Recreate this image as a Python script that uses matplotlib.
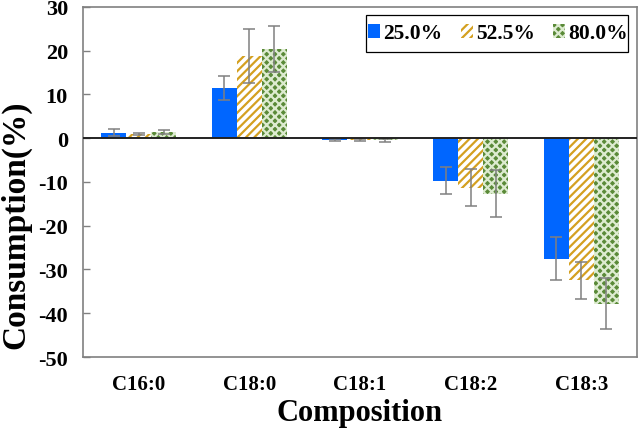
import numpy as np
import matplotlib
matplotlib.use("Agg")
import matplotlib.pyplot as plt
from matplotlib.patches import Rectangle

plt.rcParams['font.family'] = ['Liberation Serif', 'DejaVu Serif']
plt.rcParams['font.weight'] = 'bold'
plt.rcParams['axes.unicode_minus'] = False
plt.rcParams['hatch.linewidth'] = 1.6

# data
categories = ["C16:0", "C18:0", "C18:1", "C18:2", "C18:3"]
series_labels = ["25.0%", "52.5%", "80.0%"]
values_25 = [1.2, 11.4, -0.4, -9.7, -27.5]
values_52 = [0.9, 18.8, -0.4, -11.3, -32.5]
values_80 = [1.35, 20.35, -0.5, -12.7, -37.8]
err_25 = [0.8, 2.75, 0.3, 3.0, 4.85]
err_52 = [0.2, 6.2, 0.3, 4.15, 4.2]
err_80 = [0.5, 5.25, 0.3, 5.35, 5.9]

fig = plt.figure(figsize=(6.4, 4.35), dpi=100)
ax = fig.add_axes([0.130, 0.177, 0.865, 0.805])

x = np.arange(len(categories))
w = 0.226
err_kw = dict(ecolor='#808080', elinewidth=1.1, capsize=4, capthick=1.1)

ax.bar(x - w, values_25, w, color='#0066FF', linewidth=0,
       yerr=err_25, error_kw=err_kw, label=series_labels[0])
ax.bar(x, values_52, w, facecolor='white', edgecolor='#D4A020', hatch='////',
       linewidth=0, yerr=err_52, error_kw=err_kw, label=series_labels[1])
ax.bar(x + w, values_80, w, facecolor='#5A8A38', edgecolor='#DDEBD0', hatch='xxxx',
       linewidth=0, yerr=err_80, error_kw=err_kw, label=series_labels[2])

ax.axhline(0, color='#222222', linewidth=1.4, zorder=3)

ax.set_xlim(-0.5, 4.5)
ax.set_ylim(-50, 30)
ax.set_yticks(np.arange(-50, 31, 10))
ax.set_xticks(x)
ax.set_xticklabels(categories, fontsize=15, fontweight='bold')
ax.tick_params(axis='y', direction='in', length=5, color='#808080', width=1,
               labelsize=16, pad=11)
ax.tick_params(axis='x', length=0, pad=12)
for lbl in ax.get_yticklabels():
    lbl.set_fontweight('bold')

for s in ax.spines.values():
    s.set_color('#808080')
    s.set_linewidth(1.2)

ax.set_ylabel('Consumption(%)', fontsize=24, fontweight='bold')
ax.yaxis.set_label_coords(-0.094, 0.38)
ax.set_xlabel('Composition', fontsize=22, fontweight='bold', labelpad=3)

# legend box drawn by hand so it can be wider in y than in x padding
ax.add_patch(Rectangle((0.511, 0.871), 0.473, 0.106, transform=ax.transAxes,
                       facecolor='white', edgecolor='black', linewidth=0.9,
                       zorder=4))
leg = ax.legend(loc='center', ncol=3, frameon=False,
                prop={'size': 15.5, 'weight': 'bold'},
                handlelength=0.56, handleheight=0.6, handletextpad=0.15,
                columnspacing=0.86, borderaxespad=0, borderpad=0,
                bbox_to_anchor=(0.749, 0.924))
leg.set_zorder(5)

fig.savefig("out.png", dpi=100)
